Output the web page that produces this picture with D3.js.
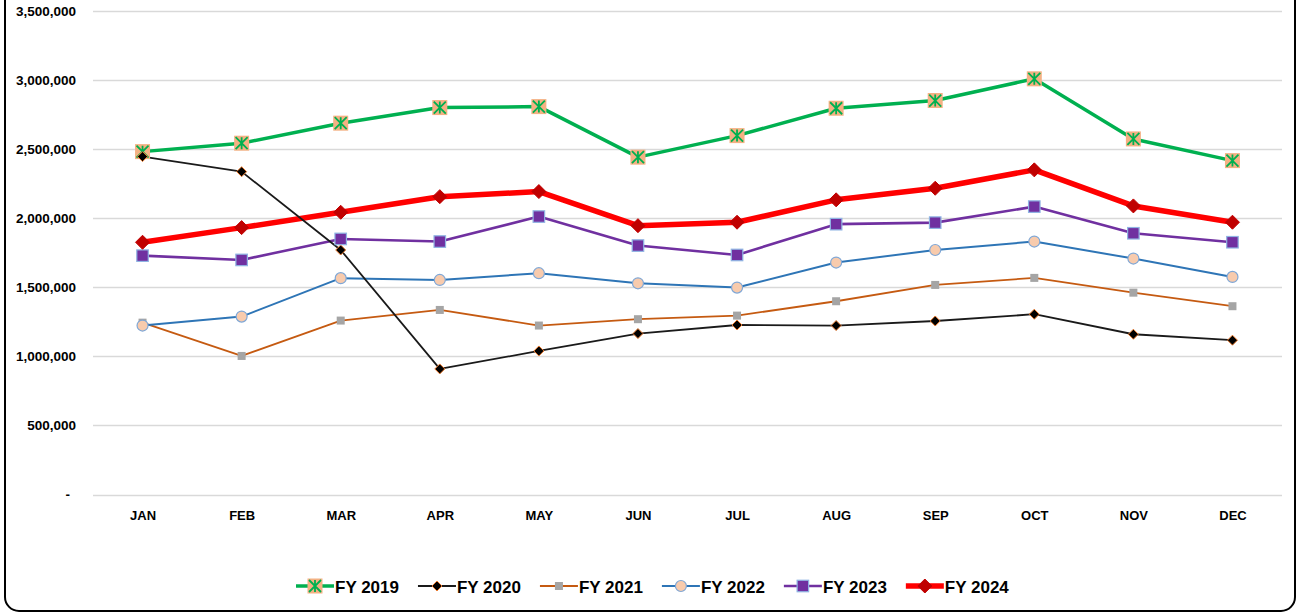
<!DOCTYPE html>
<html><head><meta charset="utf-8">
<script src="https://cdn.jsdelivr.net/npm/d3@7"></script>
<style>
html,body{margin:0;padding:0;background:#fff;}
svg{display:block;font-family:"Liberation Sans",Arial,sans-serif;}
</style></head>
<body><svg id="chart" width="1297" height="616"></svg>
<script>
const months = ["JAN","FEB","MAR","APR","MAY","JUN","JUL","AUG","SEP","OCT","NOV","DEC"];
const yTicks = [0, 500000, 1000000, 1500000, 2000000, 2500000, 3000000, 3500000];
const fy2019 = [2482000, 2543000, 2688000, 2801000, 2808000, 2442000, 2598000, 2796000, 2852000, 3009000, 2574000, 2417000];
const fy2020 = [2446000, 2337000, 1770000, 909000, 1039000, 1165000, 1227000, 1223000, 1256000, 1305000, 1160000, 1117000];
const fy2021 = [1244000, 1003000, 1259000, 1336000, 1223000, 1269000, 1295000, 1399000, 1517000, 1568000, 1461000, 1363000];
const fy2022 = [1223000, 1288000, 1566000, 1553000, 1602000, 1529000, 1498000, 1679000, 1770000, 1831000, 1708000, 1575000];
const fy2023 = [1729000, 1698000, 1850000, 1831000, 2012000, 1802000, 1734000, 1957000, 1968000, 2084000, 1891000, 1826000];
const fy2024 = [1826000, 1932000, 2043000, 2156000, 2193000, 1946000, 1971000, 2133000, 2217000, 2350000, 2089000, 1971000];
const seriesNames = ["FY 2019","FY 2020","FY 2021","FY 2022","FY 2023","FY 2024"];

const styles = {
  "FY 2019": {line:"#00B050", w:3.5, marker:"star", size:15, fill:"#F4B183", stroke:"#00B050"},
  "FY 2020": {line:"#1a1a1a", w:1.8, marker:"diamond", size:10, fill:"#000000", stroke:"#ED7D31"},
  "FY 2021": {line:"#C55A11", w:1.8, marker:"square", size:8, fill:"#A5A5A5", stroke:"none"},
  "FY 2022": {line:"#2E75B6", w:2, marker:"circle", size:11, fill:"#F8CBAD", stroke:"#7FA7D6"},
  "FY 2023": {line:"#7030A0", w:2.6, marker:"square", size:11.5, fill:"#7030A0", stroke:"#8FB4E3"},
  "FY 2024": {line:"#FF0000", w:5.5, marker:"diamond", size:14, fill:"#C00000", stroke:"#C00000"}
};
const seriesData = [fy2019, fy2020, fy2021, fy2022, fy2023, fy2024];
const series = seriesNames.map((n,i)=>({name:n, values:seriesData[i]}));

const svg = d3.select("#chart");

// frame (top edge is out of view)
svg.append("rect").attr("x",5).attr("y",-30).attr("width",1290).attr("height",641)
  .attr("rx",14).attr("fill","#fff").attr("stroke","#000").attr("stroke-width",2);

const x = d3.scalePoint().domain(months).range([93,1282]).padding(0.5);
const y = d3.scaleLinear().domain([0,3500000]).range([494.5,11]);

// gridlines
svg.append("g").selectAll("line").data(yTicks).join("line")
  .attr("x1",93).attr("x2",1282)
  .attr("y1",d=>Math.round(y(d))+0.5).attr("y2",d=>Math.round(y(d))+0.5)
  .attr("stroke","#D9D9D9").attr("stroke-width",1.3);

// y axis labels
const fmt = d3.format(",");
const yAxis = d3.axisLeft(y).tickValues(yTicks).tickSize(0).tickPadding(0)
  .tickFormat(d=> d===0 ? "-" : fmt(d));
const gy = svg.append("g").attr("transform","translate(76,0)").call(yAxis);
gy.select(".domain").remove();
gy.selectAll("text").attr("font-family","Liberation Sans, Arial, sans-serif")
  .attr("font-size",13.5).attr("font-weight","bold").attr("fill","#000")
  .attr("dx", d=> d===0 ? -6 : 0);

// x axis labels
const xAxis = d3.axisBottom(x).tickSize(0).tickPadding(0);
const gx = svg.append("g").attr("transform","translate(0,511)").call(xAxis);
gx.select(".domain").remove();
gx.selectAll("text").attr("font-family","Liberation Sans, Arial, sans-serif")
  .attr("font-size",13).attr("font-weight","bold").attr("fill","#000").attr("dy","0.71em");

// marker drawing
function drawMarker(g, st, cx, cy) {
  const s = st.size, h = s/2;
  if (st.marker === "star") {
    g.append("rect").attr("x",cx-h).attr("y",cy-h).attr("width",s).attr("height",s).attr("fill",st.fill);
    const a = h-1.5;
    const p = `M${cx},${cy-a}L${cx},${cy+a}M${cx-a},${cy-a}L${cx+a},${cy+a}M${cx+a},${cy-a}L${cx-a},${cy+a}`;
    g.append("path").attr("d",p).attr("stroke",st.stroke).attr("stroke-width",1.8).attr("fill","none");
  } else if (st.marker === "diamond") {
    g.append("path").attr("d",`M${cx},${cy-h}L${cx+h},${cy}L${cx},${cy+h}L${cx-h},${cy}Z`)
      .attr("fill",st.fill).attr("stroke",st.stroke).attr("stroke-width",1);
  } else if (st.marker === "square") {
    g.append("rect").attr("x",cx-h).attr("y",cy-h).attr("width",s).attr("height",s)
      .attr("fill",st.fill).attr("stroke",st.stroke).attr("stroke-width",st.stroke==="none"?0:1.2);
  } else if (st.marker === "circle") {
    g.append("circle").attr("cx",cx).attr("cy",cy).attr("r",h)
      .attr("fill",st.fill).attr("stroke",st.stroke).attr("stroke-width",1.2);
  }
}

const line = d3.line().x((d,i)=>x(months[i])).y(d=>y(d));
const lineOrder = ["FY 2019","FY 2021","FY 2022","FY 2023","FY 2024","FY 2020"];
const linesG = svg.append("g");
lineOrder.forEach(n=>{
  const s = series.find(q=>q.name===n);
  const st = styles[n];
  linesG.append("path").datum(s.values).attr("d",line).attr("fill","none")
    .attr("stroke",st.line).attr("stroke-width",st.w).attr("stroke-linejoin","round").attr("stroke-linecap","round");
});
const markG = svg.append("g");
series.forEach(s=>{
  const st = styles[s.name];
  s.values.forEach((v,i)=>drawMarker(markG, st, x(months[i]), y(v)));
});

// legend
const leg = svg.append("g");
const items = [];
let cur = 0;
series.forEach((s,i)=>{
  const st = styles[s.name];
  const g = leg.append("g");
  g.append("line").attr("x1",0).attr("x2",38).attr("y1",0).attr("y2",0)
    .attr("stroke",st.line).attr("stroke-width",st.w);
  drawMarker(g, st, 19, 0);
  const t = g.append("text").attr("x",39).attr("y",6.5).text(s.name)
    .attr("font-family","Liberation Sans, Arial, sans-serif").attr("font-size",17).attr("font-weight","bold").attr("fill","#000");
  const tw = t.node().getComputedTextLength();
  items.push({g, start:cur});
  cur += 39 + tw + 19;
});
const startX = 296;
items.forEach(it=>it.g.attr("transform",`translate(${startX+it.start},586)`));
</script></body></html>
